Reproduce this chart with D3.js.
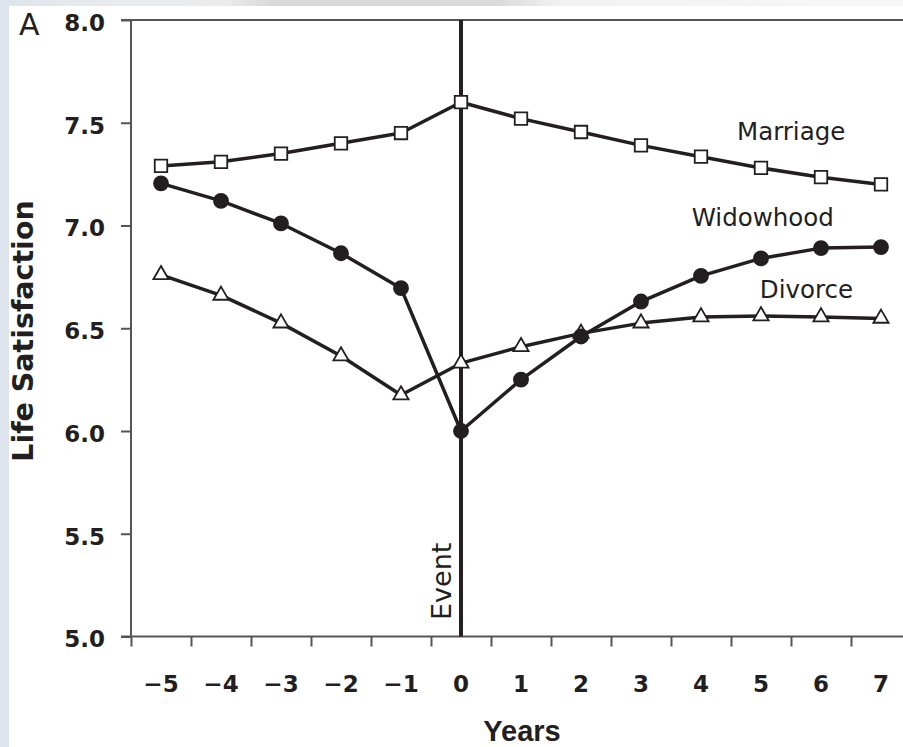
<!DOCTYPE html>
<html>
<head>
  <script src="https://d3js.org/d3.v7.min.js"></script>
  <style>
    body { margin: 0; background: #fff; }
    .tick-label { font: bold 23px "DejaVu Sans", sans-serif; fill: #231f20; }
    .series-label { font: 24.5px "DejaVu Sans", sans-serif; fill: #231f20; }
    .axis-title { font-weight: bold; fill: #231f20; }
  </style>
</head>
<body>
  <div id="chart"></div>

  <script>
    // years relative to event
    const years = [-5, -4, -3, -2, -1, 0, 1, 2, 3, 4, 5, 6, 7];

    const marriage   = [7.29, 7.31, 7.35, 7.40, 7.45, 7.60, 7.52, 7.455, 7.39, 7.335, 7.28, 7.235, 7.20];
    const widowhood  = [7.205, 7.12, 7.01, 6.865, 6.695, 6.00, 6.25, 6.46, 6.63, 6.755, 6.84, 6.89, 6.895];
    const divorce    = [6.76, 6.66, 6.525, 6.365, 6.175, 6.33, 6.41, 6.475, 6.525, 6.555, 6.56, 6.555, 6.548];

    const yTicks = [5.0, 5.5, 6.0, 6.5, 7.0, 7.5, 8.0];
    const xTickMarks = [-5.5, -4.5, -3.5, -2.5, -1.5, -0.5, 0.5, 1.5, 2.5, 3.5, 4.5, 5.5, 6.5];

    // label anchors in data units: [year, value]
    const labelNames = ["Marriage", "Widowhood", "Divorce"];
    const labelPos = [[4.6, 7.416], [3.845, 6.998], [4.98, 6.646]];

    const W = 903, H = 747;
    const ink = "#231f20", axisCol = "#555";

    const svg = d3.select("#chart").append("svg")
      .attr("width", W)
      .attr("height", H);

    // page background: light strip on the left and grey band on top
    const defs = svg.append("defs");
    const grad = defs.append("linearGradient").attr("id", "topband");
    [["0%", "#dde4ec"], ["8%", "#e6e9ec"], ["25%", "#ececec"], ["30%", "#d9d9d9"], ["55%", "#dadada"],
     ["62%", "#f2f2f2"], ["100%", "#f7f7f7"]].forEach(s => {
      grad.append("stop").attr("offset", s[0]).attr("stop-color", s[1]);
    });
    svg.append("rect").attr("x", 0).attr("y", 0).attr("width", W).attr("height", 6).attr("fill", "url(#topband)");
    svg.append("rect").attr("x", 0).attr("y", 0).attr("width", 9).attr("height", H).attr("fill", "#dde4ec");

    const x = d3.scaleLinear().domain([-5.5, 7]).range([131, 881]);
    const y = d3.scaleLinear().domain([5, 8]).range([636.5, 20]);

    // axes
    const yAxis = svg.append("g")
      .attr("transform", `translate(${x(-5.5)},0)`)
      .call(d3.axisLeft(y).tickValues(yTicks).tickSize(10).tickFormat(d3.format(".1f")));
    yAxis.select(".domain").remove();
    yAxis.selectAll(".tick line").attr("stroke", axisCol).attr("stroke-width", 2);
    yAxis.selectAll(".tick text").attr("class", "tick-label").attr("x", -26).attr("dy", "0.45em");

    svg.append("line")
      .attr("x1", x(-5.5)).attr("x2", x(-5.5))
      .attr("y1", y(8)).attr("y2", y(5))
      .attr("stroke", axisCol).attr("stroke-width", 2);

    // top rule
    svg.append("line")
      .attr("x1", x(-5.5) - 10).attr("x2", W)
      .attr("y1", y(8)).attr("y2", y(8))
      .attr("stroke", axisCol).attr("stroke-width", 2);

    // x axis: tick marks between years, labels on the years
    const xAxis = svg.append("g")
      .attr("transform", `translate(0,${y(5)})`)
      .call(d3.axisBottom(x).tickValues(xTickMarks).tickSize(10).tickFormat(""));
    xAxis.select(".domain").remove();
    xAxis.selectAll(".tick line").attr("stroke", axisCol).attr("stroke-width", 2);

    svg.append("line")
      .attr("x1", x(-5.5) - 10).attr("x2", W)
      .attr("y1", y(5)).attr("y2", y(5))
      .attr("stroke", axisCol).attr("stroke-width", 2);

    svg.append("g").selectAll("text")
      .data(years)
      .join("text")
        .attr("class", "tick-label")
        .attr("text-anchor", "middle")
        .attr("x", d => x(d))
        .attr("y", 692)
        .text(d => d < 0 ? "\u2212" + Math.abs(d) : d);

    // axis titles
    svg.append("text")
      .attr("class", "axis-title")
      .attr("text-anchor", "middle")
      .attr("x", 522)
      .attr("y", 741)
      .style("font-family", "'Liberation Sans', Arial, sans-serif")
      .style("font-size", "29px")
      .text("Years");

    svg.append("text")
      .attr("class", "axis-title")
      .attr("text-anchor", "middle")
      .attr("transform", "translate(33,331) rotate(-90)")
      .style("font-family", "'DejaVu Sans', sans-serif")
      .style("font-size", "28.5px")
      .text("Life Satisfaction");

    svg.append("text")
      .attr("x", 19)
      .attr("y", 35)
      .style("font", "30px 'DejaVu Sans', sans-serif")
      .attr("fill", ink)
      .text("A");

    // event line
    svg.append("line")
      .attr("x1", x(0)).attr("x2", x(0))
      .attr("y1", y(8)).attr("y2", y(5))
      .attr("stroke", ink).attr("stroke-width", 4);

    svg.append("text")
      .attr("transform", `translate(${x(0) - 10},620) rotate(-90)`)
      .style("font", "27px 'DejaVu Sans', sans-serif")
      .attr("fill", ink)
      .text("Event");

    // series
    const line = d3.line().x((d, i) => x(years[i])).y(d => y(d));
    const series = [
      { name: "Divorce", values: divorce, symbol: d3.symbolTriangle, size: 100, fill: "#fff" },
      { name: "Widowhood", values: widowhood, symbol: d3.symbolCircle, size: 155, fill: ink },
      { name: "Marriage", values: marriage, symbol: d3.symbolSquare, size: 156, fill: "#fff" }
    ];

    series.forEach(s => {
      svg.append("path")
        .datum(s.values)
        .attr("fill", "none")
        .attr("stroke", ink)
        .attr("stroke-width", 3.5)
        .attr("stroke-linejoin", "round")
        .attr("d", line);
    });

    series.forEach(s => {
      svg.append("g").selectAll("path")
        .data(s.values)
        .join("path")
          .attr("transform", (d, i) => `translate(${x(years[i])},${y(d)})`)
          .attr("d", d3.symbol().type(s.symbol).size(s.size))
          .attr("fill", s.fill)
          .attr("stroke", ink)
          .attr("stroke-width", 1.8);
    });

    // series labels
    svg.append("g").selectAll("text")
      .data(labelNames)
      .join("text")
        .attr("class", "series-label")
        .attr("x", (d, i) => x(labelPos[i][0]))
        .attr("y", (d, i) => y(labelPos[i][1]))
        .text(d => d);
  </script>
</body>
</html>
